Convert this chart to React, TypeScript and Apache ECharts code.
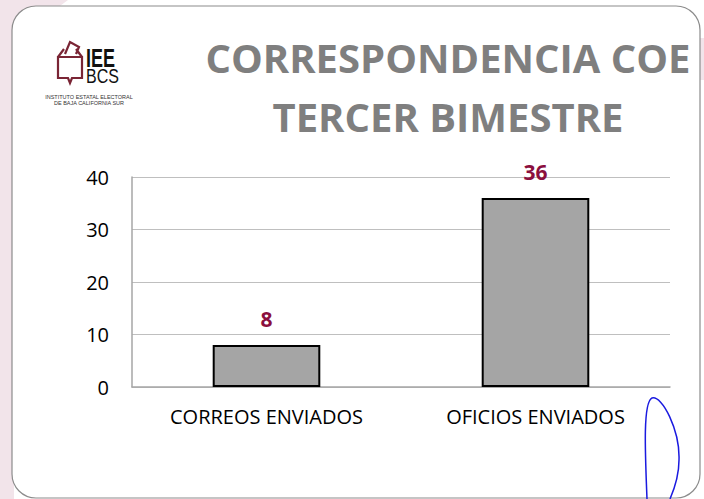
import React, { useEffect, useRef } from "react";
import * as echarts from "echarts";

const categories = ["CORREOS ENVIADOS", "OFICIOS ENVIADOS"];
const values = [8, 36];
const titleLines = ["CORRESPONDENCIA COE", "TERCER BIMESTRE"];

echarts.graphic.registerShape(
  "ballotbox",
  echarts.graphic.extendPath(
    "M0 17 L6 9 M18 9 L24 17 M0 17 L24 17 L24 38 L14 38 L12 43 L10 38 L0 38 Z M7 14 L12 2 L21 7 L18 14",
    {}
  )
);
echarts.graphic.registerShape(
  "bluecurve",
  echarts.graphic.extendPath(
    "M647 499 C 645 450, 643 402, 652 398 C 662 395, 680 430, 679 460 C 679 478, 673 492, 670 499",
    {}
  )
);

export default function App() {
  const ref = useRef<HTMLDivElement>(null);
  useEffect(() => {
    const chart = echarts.init(ref.current!, null, { renderer: "svg" });
    chart.setOption({
      animation: false,
      backgroundColor: "#ffffff",
      title: {
        text: titleLines.join("\n"),
        left: 443,
        top: 23,
        textAlign: "center",
        textStyle: {
          fontFamily: "Open Sans",
          fontWeight: "bold",
          fontSize: 40,
          color: "#7f7f7f",
          lineHeight: 59,
        },
      },
      grid: { left: 132, right: 34, top: 177, bottom: 112 },
      xAxis: {
        type: "category",
        data: categories,
        axisLine: { lineStyle: { color: "#a6a6a6", width: 1.5 } },
        axisTick: { show: false },
        axisLabel: {
          fontFamily: "Open Sans",
          fontSize: 20,
          color: "#000",
          margin: 19,
        },
      },
      yAxis: {
        type: "value",
        min: 0,
        max: 40,
        interval: 10,
        axisLine: { show: true, lineStyle: { color: "#a6a6a6", width: 1.5 } },
        axisTick: { show: false },
        splitLine: { lineStyle: { color: "#bfbfbf", width: 1 } },
        axisLabel: {
          fontFamily: "Open Sans",
          fontSize: 20,
          color: "#000",
          margin: 23,
        },
      },
      series: [
        {
          type: "bar",
          data: values,
          barWidth: "40%",
          itemStyle: { color: "#a5a5a5", borderColor: "#000", borderWidth: 2 },
          label: {
            show: true,
            position: "top",
            distance: 16,
            fontFamily: "Open Sans",
            fontWeight: "bold",
            fontSize: 21,
            color: "#8b0f3e",
          },
        },
      ],
      graphic: [
        { type: "rect", z: -10, shape: { x: 0, y: 0, width: 14, height: 499 }, style: { fill: "#f2e4ea" } },
        { type: "polygon", z: -10, shape: { points: [[0, 0], [68, 0], [14, 40], [0, 40]] }, style: { fill: "#f2e4ea" } },
        { type: "rect", z: -10, shape: { x: 699, y: 38, width: 5, height: 42 }, style: { fill: "#f2e4ea" } },
        {
          type: "rect",
          z: -5,
          shape: { x: 12, y: 6, width: 688, height: 492, r: 24 },
          style: { fill: "#ffffff", stroke: "#8c8c8c", lineWidth: 1.2 },
        },
        {
          type: "ballotbox",
          x: 58,
          y: 40,
          style: { fill: "none", stroke: "#7a2535", lineWidth: 2.2 },
        },
        {
          type: "text",
          x: 86,
          y: 46,
          scaleX: 0.72,
          style: { text: "IEE", font: "bold 25px 'Liberation Sans'", fill: "#111" },
        },
        {
          type: "text",
          x: 86,
          y: 66,
          scaleX: 0.8,
          style: { text: "BCS", font: "20px 'Liberation Sans'", fill: "#111" },
        },
        {
          type: "text",
          x: 89,
          y: 94,
          style: { text: "INSTITUTO ESTATAL ELECTORAL", font: "5.5px 'Liberation Sans'", fill: "#333", align: "center" },
        },
        {
          type: "text",
          x: 89,
          y: 100,
          style: { text: "DE BAJA CALIFORNIA SUR", font: "5.5px 'Liberation Sans'", fill: "#333", align: "center" },
        },
        {
          type: "bluecurve",
          x: 0,
          y: 0,
          style: { fill: "none", stroke: "#1a1ae0", lineWidth: 1.5 },
        },
      ],
    });
    return () => chart.dispose();
  }, []);
  return (
    <div
      ref={ref}
      style={{ position: "fixed", left: 0, top: 0, width: 704, height: 499 }}
    />
  );
}
